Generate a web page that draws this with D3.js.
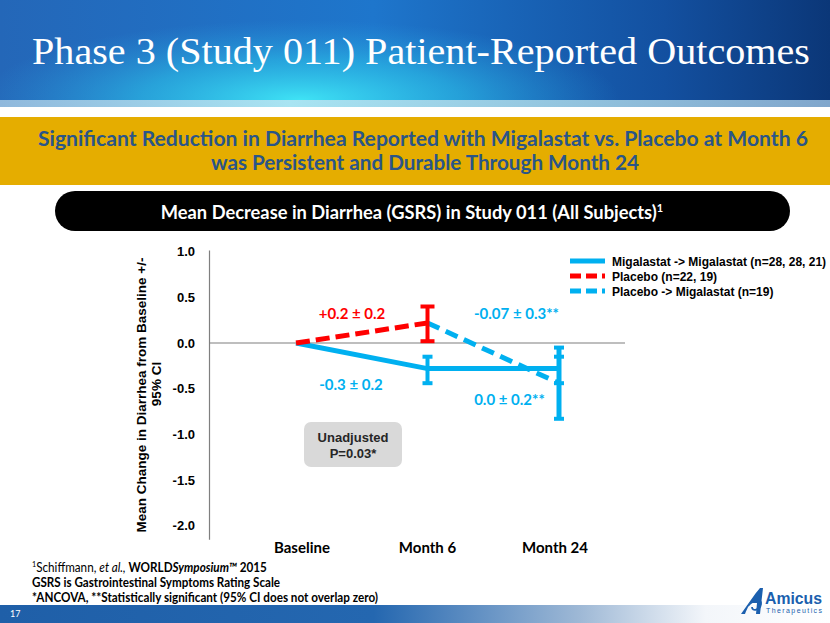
<!DOCTYPE html>
<html><head><meta charset="utf-8">
<script src="https://cdn.jsdelivr.net/npm/d3@7"></script>
<style>html,body{margin:0;padding:0;background:#fff;overflow:hidden}svg{display:block}</style>
</head><body>
<script>
// ---- data ----
const categories = ["Baseline", "Month 6", "Month 24"];
const yTicks = [1.0, 0.5, 0.0, -0.5, -1.0, -1.5, -2.0];
const migMean = [0, -0.28, -0.28];
const migLow = [null, -0.44, -0.44];
const migHigh = [null, -0.15, -0.15];
const placeboCats = ["Baseline", "Month 6"];
const placeboMean = [0, 0.22];
const placeboLow = [null, 0.02];
const placeboHigh = [null, 0.40];
const pmCats = ["Month 6", "Month 24"];
const pmMean = [0.22, -0.44];
const pmLow = [null, -0.83];
const pmHigh = [null, -0.05];
const seriesNames = ["Migalastat -> Migalastat (n=28, 28, 21)", "Placebo (n=22, 19)", "Placebo -> Migalastat (n=19)"];
const annotations = [
  {text: "+0.2 \u00B1 0.2", cat: "Baseline", val: 0.32, dx: 56, color: "#ff0000"},
  {text: "-0.07 \u00B1 0.3**", cat: "Month 6", val: 0.32, dx: 89, color: "#00b0f0"},
  {text: "-0.3 \u00B1 0.2", cat: "Baseline", val: -0.46, dx: 55, color: "#00b0f0"},
  {text: "0.0 \u00B1 0.2**", cat: "Month 6", val: -0.62, dx: 82, color: "#00b0f0"}
];

const W = 830, H = 623;
const BLUE = "#00b0f0", RED = "#ff0000";
const svg = d3.select("body").append("svg").attr("width", W).attr("height", H);
const defs = svg.append("defs");

// ---- header ----
const hg = defs.append("linearGradient").attr("id", "hg").attr("x1", 0).attr("x2", 1).attr("y1", 0).attr("y2", 0);
hg.append("stop").attr("offset", "0").attr("stop-color", "#2467b8");
hg.append("stop").attr("offset", "0.45").attr("stop-color", "#1e76cc");
hg.append("stop").attr("offset", "0.8").attr("stop-color", "#1350a0");
hg.append("stop").attr("offset", "1").attr("stop-color", "#0b3778");
svg.append("rect").attr("x", 0).attr("y", 0).attr("width", W).attr("height", 101).attr("fill", "url(#hg)");
const rg = defs.append("radialGradient").attr("id", "rg").attr("cx", 0.5).attr("cy", 0.5).attr("r", 0.5);
rg.append("stop").attr("offset", "0").attr("stop-color", "#3fe3f5").attr("stop-opacity", 1);
rg.append("stop").attr("offset", "0.5").attr("stop-color", "#2cc4ea").attr("stop-opacity", 0.6);
rg.append("stop").attr("offset", "1").attr("stop-color", "#2aa0e0").attr("stop-opacity", 0);
svg.append("clipPath").attr("id", "hc").append("rect").attr("x", 0).attr("y", 0).attr("width", W).attr("height", 101);
svg.append("ellipse").attr("clip-path", "url(#hc)").attr("cx", 300).attr("cy", 100).attr("rx", 320).attr("ry", 80).attr("fill", "url(#rg)");
const sg = defs.append("linearGradient").attr("id", "sg").attr("x1", 0).attr("x2", 1);
sg.append("stop").attr("offset", "0").attr("stop-color", "#8fb8dc");
sg.append("stop").attr("offset", "0.35").attr("stop-color", "#a9e4f2");
sg.append("stop").attr("offset", "1").attr("stop-color", "#7fa6cc");
svg.append("rect").attr("x", 0).attr("y", 100).attr("width", W).attr("height", 7).attr("fill", "url(#sg)");
svg.append("text").attr("x", 32).attr("y", 64)
  .attr("textLength", 778).attr("lengthAdjust", "spacingAndGlyphs")
  .style("font-family", "'Liberation Serif','DejaVu Serif',serif").style("font-size", "37px")
  .attr("fill", "#ffffff").text("Phase 3 (Study 011) Patient-Reported Outcomes");

// ---- yellow banner ----
svg.append("rect").attr("x", 0).attr("y", 117).attr("width", W).attr("height", 68).attr("fill", "#e5ad00");
const bannerFont = "'Lato','Open Sans',sans-serif";
svg.append("text").attr("x", 423).attr("y", 146).attr("text-anchor", "middle")
  .attr("textLength", 770).attr("lengthAdjust", "spacingAndGlyphs")
  .style("font-family", bannerFont).style("font-weight", 700).style("font-size", "20px").attr("fill", "#2a5588")
  .text("Significant Reduction in Diarrhea Reported with Migalastat vs. Placebo at Month 6");
svg.append("text").attr("x", 425).attr("y", 170).attr("text-anchor", "middle")
  .attr("textLength", 428).attr("lengthAdjust", "spacingAndGlyphs")
  .style("font-family", bannerFont).style("font-weight", 700).style("font-size", "20px").attr("fill", "#2a5588")
  .text("was Persistent and Durable Through Month 24");

// ---- black pill ----
svg.append("rect").attr("x", 55).attr("y", 191).attr("width", 735).attr("height", 40).attr("rx", 20).attr("fill", "#000");
const pill = svg.append("text").attr("x", 412).attr("y", 219).attr("text-anchor", "middle")
  .style("font-family", bannerFont).style("font-weight", 700).style("font-size", "18px").attr("fill", "#fff");
pill.append("tspan").attr("textLength", 496).attr("lengthAdjust", "spacingAndGlyphs").text("Mean Decrease in Diarrhea (GSRS) in Study 011 (All Subjects)");
pill.append("tspan").attr("dy", -7).style("font-size", "11px").text("1");

// ---- chart ----
const x = d3.scalePoint().domain(categories).range([296, 559]);
const y = d3.scaleLinear().domain([-2.15, 1.02]).range([539.3, 249.9]);
const axisFont = "'Liberation Sans',Arial,sans-serif";

const yAxis = svg.append("g").attr("transform", "translate(209,0)")
  .call(d3.axisLeft(y).tickValues(yTicks).tickFormat(d => d.toFixed(1)).tickSize(0).tickSizeOuter(0).tickPadding(14));
yAxis.select(".domain").attr("stroke", "#7f7f7f").attr("stroke-width", 1.2);
yAxis.selectAll("text").style("font-family", axisFont).style("font-weight", 700).style("font-size", "13px").attr("fill", "#000");

svg.append("line").attr("x1", 209).attr("x2", 625).attr("y1", y(0)).attr("y2", y(0)).attr("stroke", "#7f7f7f").attr("stroke-width", 1.2);

// y title
const yt = svg.append("g").style("font-family", axisFont).style("font-weight", 700).style("font-size", "13.5px").attr("fill", "#000");
yt.append("text").attr("transform", "translate(146,395) rotate(-90)").attr("text-anchor", "middle").text("Mean Change in Diarrhea from Baseline +/-");
yt.append("text").attr("transform", "translate(161,384) rotate(-90)").attr("text-anchor", "middle").text("95% CI");

// x labels
svg.append("g").selectAll("text").data(categories).join("text")
  .attr("x", (d, i) => x(d) + (i === 0 ? 6 : i === 2 ? -4 : 0)).attr("y", 553).attr("text-anchor", "middle")
  .style("font-family", bannerFont).style("font-weight", 700).style("font-size", "15px").attr("fill", "#000").text(d => d);

const line = d3.line().x(d => x(d.c)).y(d => y(d.v));

function errBars(cats, lows, highs, color, capW, sw) {
  const g = svg.append("g");
  cats.forEach((c, i) => {
    if (lows[i] == null) return;
    const cx = x(c);
    g.append("line").attr("x1", cx).attr("x2", cx).attr("y1", y(lows[i])).attr("y2", y(highs[i])).attr("stroke", color).attr("stroke-width", sw);
    [lows[i], highs[i]].forEach(v => {
      g.append("line").attr("x1", cx - capW / 2).attr("x2", cx + capW / 2).attr("y1", y(v)).attr("y2", y(v)).attr("stroke", color).attr("stroke-width", 4);
    });
  });
}

// Migalastat solid
svg.append("path").datum(categories.map((c, i) => ({c, v: migMean[i]})))
  .attr("d", line).attr("fill", "none").attr("stroke", BLUE).attr("stroke-width", 5);
errBars(categories, migLow, migHigh, BLUE, 10, 4);
// Placebo -> Migalastat dashed
svg.append("path").datum(pmCats.map((c, i) => ({c, v: pmMean[i]})))
  .attr("d", line).attr("fill", "none").attr("stroke", BLUE).attr("stroke-width", 5).attr("stroke-dasharray", "13,7");
errBars(pmCats, pmLow, pmHigh, BLUE, 10, 5);
// Placebo red dashed
svg.append("path").datum(placeboCats.map((c, i) => ({c, v: placeboMean[i]})))
  .attr("d", line).attr("fill", "none").attr("stroke", RED).attr("stroke-width", 5).attr("stroke-dasharray", "14,6");
errBars(placeboCats, placeboLow, placeboHigh, RED, 14, 4);

// annotations
svg.append("g").selectAll("text").data(annotations).join("text")
  .attr("x", d => x(d.cat) + d.dx).attr("y", d => y(d.val) + 5).attr("text-anchor", "middle")
  .style("font-family", bannerFont).style("font-weight", 700).style("font-size", "15px")
  .attr("fill", d => d.color).text(d => d.text);

// Unadjusted box
svg.append("rect").attr("x", 304).attr("y", 422).attr("width", 98).attr("height", 45).attr("rx", 7).attr("fill", "#d9d9d9");
const ub = svg.append("g").style("font-family", axisFont).style("font-weight", 700).style("font-size", "13px").attr("fill", "#262626").attr("text-anchor", "middle");
ub.append("text").attr("x", 353).attr("y", 442).text("Unadjusted");
ub.append("text").attr("x", 353).attr("y", 458).text("P=0.03*");

// legend
const leg = svg.append("g").attr("transform", "translate(570,0)");
const legStyles = [
  {color: BLUE, dash: null, y: 261},
  {color: RED, dash: "11,5", y: 276},
  {color: BLUE, dash: "11,5", y: 291}
];
seriesNames.forEach((n, i) => {
  const s = legStyles[i];
  leg.append("line").attr("x1", 0).attr("x2", 35).attr("y1", s.y).attr("y2", s.y).attr("stroke", s.color).attr("stroke-width", 5)
    .attr("stroke-dasharray", s.dash);
  leg.append("text").attr("x", 42).attr("y", s.y + 4.5).style("font-family", axisFont).style("font-weight", 700).style("font-size", "12px").attr("fill", "#000").text(n);
});

// footnotes
const fn = svg.append("g").style("font-family", bannerFont).style("font-size", "13px").attr("fill", "#000");
const f1 = fn.append("text").attr("transform", "translate(32,572) scale(0.9,1)");
f1.append("tspan").attr("dy", -5).style("font-size", "8px").text("1");
f1.append("tspan").attr("dy", 5).text("Schiffmann, ");
f1.append("tspan").style("font-style", "italic").text("et al.,");
f1.append("tspan").style("font-weight", 700).text(" WORLD");
f1.append("tspan").style("font-weight", 700).style("font-style", "italic").text("Symposium\u2122");
f1.append("tspan").style("font-weight", 700).text(" 2015");
fn.append("text").attr("x", 32).attr("y", 587).style("font-weight", 700).attr("textLength", 248).attr("lengthAdjust", "spacingAndGlyphs").text("GSRS is Gastrointestinal Symptoms Rating Scale");
fn.append("text").attr("x", 32).attr("y", 602).style("font-weight", 700).attr("textLength", 346).attr("lengthAdjust", "spacingAndGlyphs").text("*ANCOVA, **Statistically significant (95% CI does not overlap zero)");

// bottom band
const bg = defs.append("linearGradient").attr("id", "bg").attr("x1", 0).attr("x2", 1);
bg.append("stop").attr("offset", "0").attr("stop-color", "#1f5fa8");
bg.append("stop").attr("offset", "0.45").attr("stop-color", "#2467b0");
bg.append("stop").attr("offset", "0.7").attr("stop-color", "#9fb9d6");
bg.append("stop").attr("offset", "0.85").attr("stop-color", "#f3f6fa");
bg.append("stop").attr("offset", "1").attr("stop-color", "#ffffff");
svg.append("rect").attr("x", 0).attr("y", 605).attr("width", W).attr("height", 18).attr("fill", "url(#bg)");
svg.append("text").attr("x", 10).attr("y", 617).style("font-family", bannerFont).style("font-size", "9px").attr("fill", "#fff").text("17");

// logo
const logo = svg.append("g").attr("fill", "#1b5fae");
logo.append("path").attr("d", "M741,614 C748,604 754,595 760,588 L763,588 L760,614 L756,614 L757,603 L750,603 C748,607 746,611 745,614 Z");
logo.append("path").attr("d", "M748,606 C754,599 762,598 761,604 C760,610 752,612 752,607").attr("fill", "none").attr("stroke", "#1b5fae").attr("stroke-width", 1.8);
logo.append("text").attr("x", 765).attr("y", 604).style("font-family", "'Liberation Sans',Arial,sans-serif").style("font-weight", 700).style("font-size", "16px").attr("textLength", 57).attr("lengthAdjust", "spacingAndGlyphs").text("Amicus");
logo.append("text").attr("x", 766).attr("y", 613).style("font-family", "'Liberation Sans',Arial,sans-serif").style("font-size", "7px").attr("textLength", 56).text("Therapeutics");
</script>
</body></html>
